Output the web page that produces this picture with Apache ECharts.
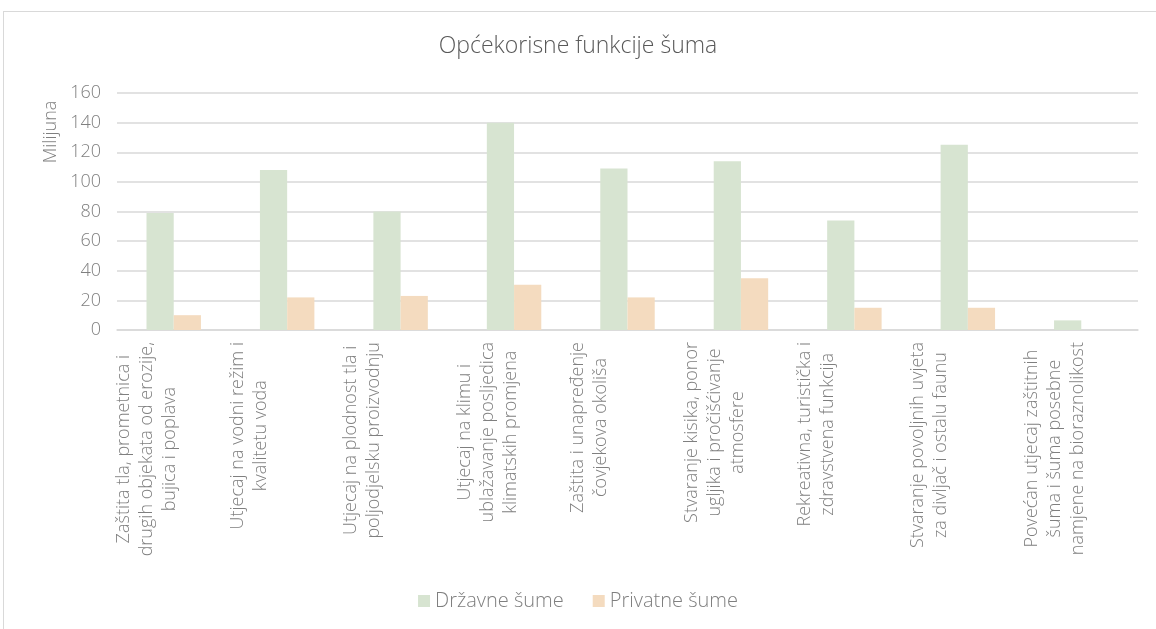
<!DOCTYPE html>
<html>
<head>
<meta charset="utf-8">
<title>Općekorisne funkcije šuma</title>
<script src="https://cdn.jsdelivr.net/npm/echarts@6/dist/echarts.min.js"></script>
<style>
  html, body { margin: 0; padding: 0; background: #fff; }
  #wrap { position: relative; width: 1156px; height: 629px; overflow: hidden; }
  /* okvir grafikona (gornji i lijevi rub) */
  #frame { position: absolute; left: 3px; top: 11px; width: 1200px; height: 700px;
           border-top: 1px solid #d9d9d9; border-left: 1px solid #d9d9d9; }
  #chart { position: absolute; left: 0; top: 0; width: 1156px; height: 629px; }
</style>
</head>
<body>
<div id="wrap">
  <div id="frame"></div>
  <div id="chart"></div>
</div>
<script>
// kategorije (prijelomi redaka kao u originalu)
const categories = [
  'Zaštita tla, prometnica i\ndrugih objekata od erozije,\nbujica i poplava',
  'Utjecaj na vodni režim i\nkvalitetu voda',
  'Utjecaj na plodnost tla i\npoljodjelsku proizvodnju',
  'Utjecaj na klimu i\nublažavanje posljedica\nklimatskih promjena',
  'Zaštita i unapređenje\nčovjekova okoliša',
  'Stvaranje kisika, ponor\nugljika i pročišćivanje\natmosfere',
  'Rekreativna, turistička i\nzdravstvena funkcija',
  'Stvaranje povoljnih uvjeta\nza divljač i ostalu faunu',
  'Povećan utjecaj zaštitnih\nšuma i šuma posebne\nnamjene na bioraznolikost',
]
const drzavneSume = [79, 108, 80, 140, 109, 114, 74, 125, 6.5]
const privatneSume = [10, 22, 23, 30.5, 22, 35, 15, 15, 0]
const seriesNames = ['Državne šume', 'Privatne šume']
const yTicks = { min: 0, max: 160, interval: 20 }

const textColor = '#7f7f7f'
const font = '"Open Sans", Lato, sans-serif'
const lineH = 23

const chart = echarts.init(document.getElementById('chart'))

// svaki redak centriran unutar bloka; razmak na kraju pomiče blok lijevo od crtice
function labelFormatter(value) {
  const lines = value.split('\n')
  return lines.map(l => '{c|' + l + '}').join('\n') + '\n{sp' + lines.length + '| }'
}

chart.setOption({
  animation: false,
  textStyle: { fontFamily: font, fontWeight: 300, color: textColor },
  title: {
    text: 'Općekorisne funkcije šuma',
    left: 'center',
    top: 30,
    textStyle: { fontFamily: font, fontWeight: 300, fontSize: 23, color: '#595959' },
  },
  legend: {
    data: seriesNames,
    left: 'center',
    top: 586,
    icon: 'rect',
    itemWidth: 12,
    itemHeight: 12,
    itemGap: 29,
    textStyle: { fontFamily: font, fontWeight: 300, fontSize: 20, color: textColor },
  },
  grid: { left: 117, right: 18, top: 93, bottom: 299, containLabel: false, outerBoundsMode: 'none' },
  graphic: [{
    type: 'text',
    x: 51,
    y: 132,
    rotation: Math.PI / 2,
    style: {
      text: 'Milijuna',
      fill: textColor,
      font: '300 18px ' + font,
      align: 'center',
      verticalAlign: 'middle',
    },
  }],
  xAxis: {
    type: 'category',
    data: categories,
    axisLine: { lineStyle: { color: '#d9d9d9', width: 1.5 } },
    axisTick: { show: false },
    axisLabel: {
      interval: 0,
      rotate: 90,
      margin: 12,
      color: textColor,
      formatter: labelFormatter,
      rich: {
        c: { align: 'center', fontSize: 18, fontFamily: font, fontWeight: 300, color: textColor, lineHeight: lineH },
        sp2: { fontSize: 18, lineHeight: 122 - 2 * lineH },
        sp3: { fontSize: 18, lineHeight: 122 - 3 * lineH },
      },
    },
  },
  yAxis: {
    type: 'value',
    min: yTicks.min,
    max: yTicks.max,
    interval: yTicks.interval,
    axisLine: { show: false },
    axisTick: { show: false },
    axisLabel: { margin: 16, fontSize: 18, color: textColor, fontFamily: font, fontWeight: 300 },
    splitLine: { lineStyle: { color: '#d9d9d9', width: 1.5 } },
  },
  series: [
    {
      name: seriesNames[0],
      type: 'bar',
      data: drzavneSume,
      barGap: '0%',
      barCategoryGap: '52%',
      itemStyle: { color: '#d7e4d1' },
    },
    {
      name: seriesNames[1],
      type: 'bar',
      data: privatneSume,
      barGap: '0%',
      barCategoryGap: '52%',
      itemStyle: { color: '#f4dbbf' },
    },
  ],
})
</script>
</body>
</html>
